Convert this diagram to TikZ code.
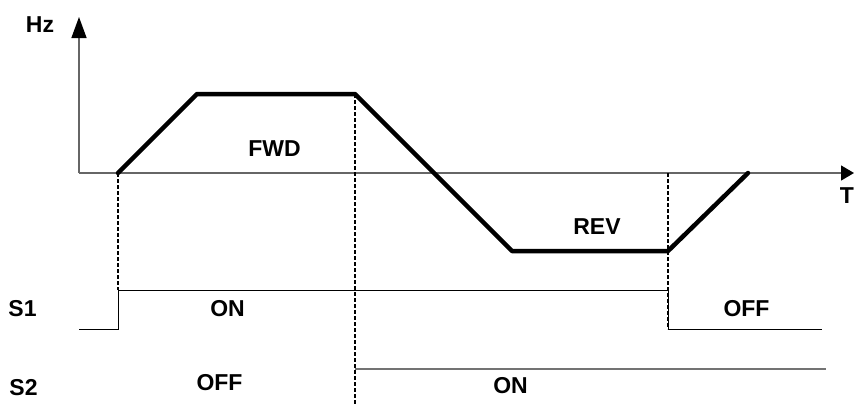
\documentclass[tikz,border=0pt]{standalone}
\usepackage{fontspec}
\setmainfont{Liberation Sans}
\usetikzlibrary{arrows.meta}
\tikzset{
  lbl/.style={font=\fontsize{23}{23}\selectfont\bfseries, inner sep=0pt},
  axisline/.style={draw=black!60, line width=1.4pt},
  curve/.style={line width=4.5pt, line join=round, line cap=round},
  guide/.style={dash pattern=on 4pt off 2pt, line width=1.1pt},
  sig/.style={line width=1pt},
  sigtwo/.style={draw=black!55, line width=1.6pt},
}
\begin{document}
\begin{tikzpicture}[x=1pt,y=-1pt]
\useasboundingbox (0,0) rectangle (854,405);
% axes
\coordinate (O) at (79,173);
\coordinate (Ytip) at (79,17);
\coordinate (Xtip) at (854,173);
\draw[axisline, -{Triangle[length=21pt,width=15pt,color=black]}] (O) -- (Ytip);
\draw[axisline, -{Triangle[length=13pt,width=15pt,color=black]}] (O) -- (Xtip);
\node[lbl] (hz) at (40,25) {Hz};
\node[lbl] (t) at (847,196) {T};
% frequency curve
\coordinate (p1) at (118,173);
\coordinate (p2) at (197,94);
\coordinate (p3) at (355,94);
\coordinate (p4) at (512,251);
\coordinate (p5) at (668,251);
\coordinate (p6) at (748,173);
\draw[curve] (p1) -- (p2) -- (p3) -- (p4) -- (p5) -- (p6);
\node[lbl] (fwd) at (274.5,148.5) {FWD};
\node[lbl] (rev) at (597,226.5) {REV};
% S1 signal
\coordinate (s1a) at (79,329);
\coordinate (s1b) at (118,329);
\coordinate (s1c) at (118,290);
\coordinate (s1d) at (668,290);
\coordinate (s1e) at (668,329);
\coordinate (s1f) at (822,329);
\draw[sig] (s1a) -- (s1b) -- (s1c) -- (s1d) -- (s1e) -- (s1f);
% S2 signal
\coordinate (s2a) at (355,369);
\coordinate (s2b) at (826,369);
\draw[sigtwo] (s2a) -- (s2b);
% guide lines
\coordinate (g2) at (355,405);
\coordinate (g3) at (668,173);
\draw[guide] (p1) -- (s1c);
\draw[guide] (p3) -- (g2);
\draw[guide] (g3) -- (s1e);
% labels
\node[lbl] (s1) at (22.5,308.5) {S1};
\node[lbl] (s2) at (23.5,387.5) {S2};
\node[lbl] (on1) at (227.5,308.5) {ON};
\node[lbl] (off1) at (746.5,308.5) {OFF};
\node[lbl] (off2) at (219.5,383) {OFF};
\node[lbl] (on2) at (510.5,385.5) {ON};
\end{tikzpicture}
\end{document}
